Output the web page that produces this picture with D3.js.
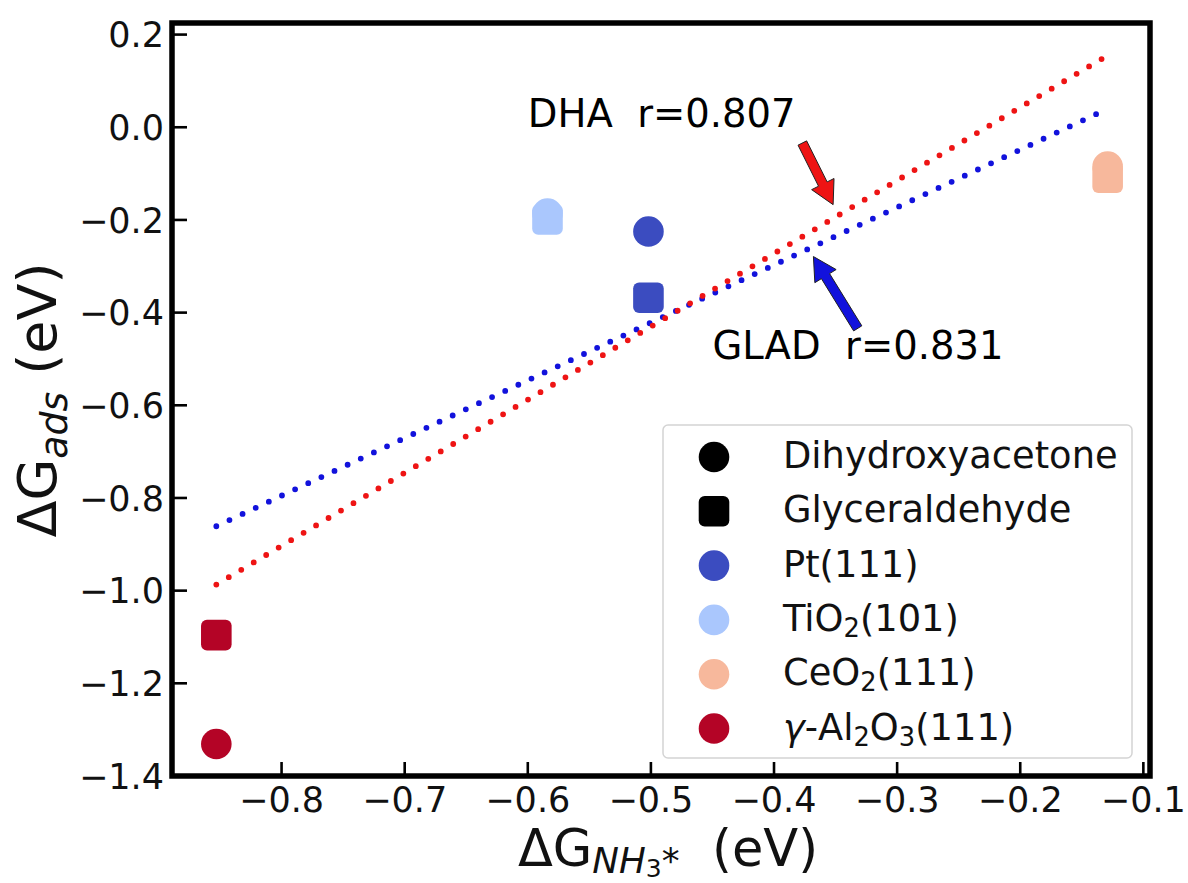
<!DOCTYPE html>
<html>
<head>
<meta charset="utf-8">
<script src="https://cdn.jsdelivr.net/npm/d3@7"></script>
<style>
  html, body { margin: 0; padding: 0; background: #fff; }
  svg { display: block; }
</style>
</head>
<body>
<svg id="chart" width="1188" height="883"></svg>
<script>
/* Adsorption free energy vs NH3* binding energy, four surfaces,
   two adsorbates (DHA = circles, GLAD = squares) plus their linear fits. */

// ---- data ----
const surfaces = ['Pt(111)', 'TiO_2(101)', 'CeO_2(111)', 'γ-Al_2O_3(111)'];
const dG_NH3   = [-0.502, -0.584, -0.129, -0.853];
const dG_DHA   = [-0.225, -0.186, -0.085, -1.331];
const dG_GLAD  = [-0.368, -0.199, -0.109, -1.096];

// fitted lines, endpoints as drawn
const fitDHA  = [[-0.853, -0.987], [-0.129, 0.155]];
const fitGLAD = [[-0.853, -0.861], [-0.129, 0.040]];

const notes      = ['DHA  r=0.807', 'GLAD  r=0.831'];
const notePos    = [[-0.600, 0.000], [-0.450, -0.500]];
const arrowTail  = [[-0.377, -0.034], [-0.332, -0.434]];
const arrowTip   = [[-0.352, -0.167], [-0.368, -0.279]];

const xTicks = [-0.8, -0.7, -0.6, -0.5, -0.4, -0.3, -0.2, -0.1];
const yTicks = [0.2, 0.0, -0.2, -0.4, -0.6, -0.8, -1.0, -1.2, -1.4];

const molecules = ['Dihydroxyacetone', 'Glyceraldehyde'];

(function () {
  const sv = d3.select('#chart');
  const font = 'DejaVu Sans, sans-serif';
  const ink = '#000';
  const surfColor = ['#3b4cc0', '#aac7fd', '#f7b89c', '#b40426'];
  const red = '#ee1414', blue = '#1212dc';
  const L = 172, R = 1150, T = 23, B = 776;

  const x = d3.scaleLinear().domain([-0.889, -0.0946]).range([L, R]);
  const y = d3.scaleLinear().domain([-1.4, 0.225]).range([B, T]);
  const fmt = d3.format('.1f');

  // subscript-aware text: "TiO_2(101)" -> TiO₂(101); γ set in italics
  function rich(text, str, size) {
    let shift = 0;
    str.split(/(_\d|γ)/).filter(Boolean).forEach(tok => {
      const sub = tok[0] === '_';
      const want = sub ? size * 0.17 : 0;
      text.append('tspan')
        .attr('dy', want - shift)
        .attr('font-size', sub ? size * 0.7 : size)
        .attr('font-style', tok === 'γ' ? 'italic' : null)
        .text(sub ? tok.slice(1) : tok);
      shift = want;
    });
  }

  // markers
  const mk = sv.append('g');
  function circle(g, cx, cy, fill) {
    g.append('circle').attr('cx', cx).attr('cy', cy).attr('r', 15.3).attr('fill', fill);
  }
  function square(g, cx, cy, fill) {
    g.append('rect').attr('x', cx - 15.3).attr('y', cy - 15.3)
      .attr('width', 30.6).attr('height', 30.6).attr('rx', 6).attr('fill', fill);
  }
  dG_NH3.forEach((v, i) => {
    circle(mk, x(v), y(dG_DHA[i]), surfColor[i]);
    square(mk, x(v), y(dG_GLAD[i]), surfColor[i]);
  });

  // fitted lines (dotted)
  const line = d3.line().x(d => x(d[0])).y(d => y(d[1]));
  [[fitGLAD, blue], [fitDHA, red]].forEach(([pts, c]) => {
    sv.append('path').attr('d', line(pts))
      .attr('fill', 'none').attr('stroke', c).attr('stroke-width', 5.8)
      .attr('stroke-linecap', 'round').attr('stroke-dasharray', '0 14.5');
  });

  // arrows
  function arrow(p0, p1, color) {
    const x0 = x(p0[0]), y0 = y(p0[1]), x1 = x(p1[0]), y1 = y(p1[1]);
    const len = Math.hypot(x1 - x0, y1 - y0);
    const ux = (x1 - x0) / len, uy = (y1 - y0) / len;
    const px = -uy, py = ux;
    const w = 4.8, hw = 12.5, hl = 23;
    const bx = x1 - ux * hl, by = y1 - uy * hl;
    const pts = [
      [x0 + px * w, y0 + py * w], [bx + px * w, by + py * w], [bx + px * hw, by + py * hw],
      [x1, y1],
      [bx - px * hw, by - py * hw], [bx - px * w, by - py * w], [x0 - px * w, y0 - py * w]
    ];
    sv.append('path').attr('d', 'M' + pts.join('L') + 'Z')
      .attr('fill', color).attr('stroke', '#222').attr('stroke-width', 1)
      .attr('stroke-linejoin', 'miter');
  }
  arrow(arrowTail[0], arrowTip[0], red);
  arrow(arrowTail[1], arrowTip[1], blue);

  notes.forEach((t, i) => {
    sv.append('text')
      .attr('x', x(notePos[i][0])).attr('y', y(notePos[i][1]))
      .attr('font-family', font).attr('font-size', 38.5).attr('fill', ink)
      .style('white-space', 'pre')
      .text(t);
  });

  // legend
  const lg = sv.append('g');
  lg.append('rect').attr('x', 663).attr('y', 425).attr('width', 469).attr('height', 333)
    .attr('rx', 5).attr('fill', '#fff').attr('fill-opacity', 0.8)
    .attr('stroke', '#d4d4d4').attr('stroke-width', 1.5);
  const rows = molecules.concat(surfaces);
  rows.forEach((lab, i) => {
    const cy = 457 + i * 54.3;
    if (i === 1) square(lg, 714, cy, ink);
    else circle(lg, 714, cy, i === 0 ? ink : surfColor[i - 2]);
    const t = lg.append('text').attr('x', 783).attr('y', cy + 11)
      .attr('font-family', font).attr('font-size', 36.8).attr('fill', '#111');
    rich(t, lab, 36.8);
  });

  // spines
  sv.append('rect').attr('x', L).attr('y', T).attr('width', R - L).attr('height', B - T)
    .attr('fill', 'none').attr('stroke', ink).attr('stroke-width', 5.5);

  // ticks (inward) and labels
  xTicks.forEach(v => {
    sv.append('line').attr('x1', x(v)).attr('x2', x(v)).attr('y1', B).attr('y2', B - 14)
      .attr('stroke', ink).attr('stroke-width', 2.6);
    sv.append('text').attr('x', x(v)).attr('y', 812)
      .attr('text-anchor', 'middle').attr('font-family', font).attr('font-size', 35)
      .attr('fill', '#111').text(fmt(v));
  });
  yTicks.forEach(v => {
    sv.append('line').attr('x1', L).attr('x2', L + 15).attr('y1', y(v)).attr('y2', y(v))
      .attr('stroke', ink).attr('stroke-width', 2.6);
    sv.append('text').attr('x', 164).attr('y', y(v)).attr('dy', '0.36em')
      .attr('text-anchor', 'end').attr('font-family', font).attr('font-size', 35)
      .attr('fill', '#111').text(fmt(v));
  });

  // axis labels
  const fs = 54, fx = 51;
  const xl = sv.append('text').attr('x', 668).attr('y', 866)
    .attr('text-anchor', 'middle').attr('font-family', font).attr('font-size', fx).attr('fill', '#111');
  xl.append('tspan').text('ΔG');
  xl.append('tspan').attr('dy', fx * 0.14).attr('font-size', fx * 0.7).attr('font-style', 'italic').text('NH');
  xl.append('tspan').attr('dy', fx * 0.08).attr('font-size', fx * 0.49).text('3');
  xl.append('tspan').attr('dy', -fx * 0.08).attr('font-size', fx * 0.7).text('*');
  xl.append('tspan').attr('dy', -fx * 0.14).style('white-space', 'pre').text('  (eV)');

  const yl = sv.append('text').attr('transform', 'translate(56,400) rotate(-90)')
    .attr('text-anchor', 'middle').attr('font-family', font).attr('font-size', fs).attr('fill', '#111');
  yl.append('tspan').text('ΔG');
  yl.append('tspan').attr('dy', fs * 0.2).attr('font-size', fs * 0.7).attr('font-style', 'italic').text('ads');
  yl.append('tspan').attr('dy', -fs * 0.2).style('white-space', 'pre').text(' (eV)');
})();
</script>
</body>
</html>
